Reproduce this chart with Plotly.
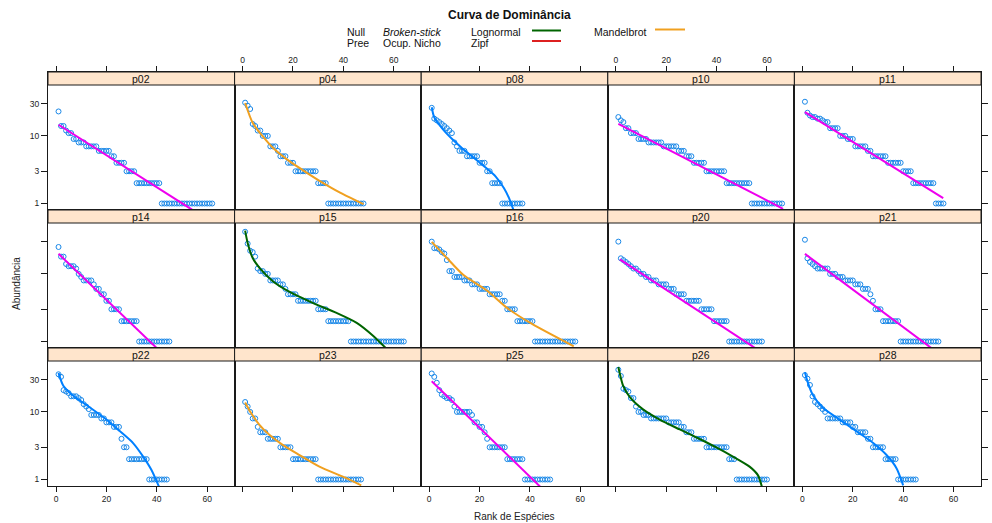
import plotly.graph_objects as go

W, H = 992, 523

panel_names = ["p02", "p04", "p08", "p10", "p11",
               "p14", "p15", "p16", "p20", "p21",
               "p22", "p23", "p25", "p26", "p28"]

x_ticks = [0, 20, 40, 60]
y_ticks = [1, 3, 10, 30]
y_ticktext = ["1", "3", "10", "30"]

# ---- abundances (sorted, rank = position) ----
p02_ab = [23, 14, 14, 12, 11, 11, 9, 9, 8, 8, 8, 7, 7, 7, 7, 7, 6, 6, 6, 6, 6, 5, 5, 4, 4, 4, 4, 3, 3, 3, 3,
          2, 2, 2, 2, 2, 2, 2, 2, 2, 2,
          1, 1, 1, 1, 1, 1, 1, 1, 1, 1, 1, 1, 1, 1, 1, 1, 1, 1, 1, 1, 1]
p04_ab = [31, 28, 25, 15, 14, 12, 12, 10, 10, 10, 7, 7, 7, 6, 5, 5, 5, 4, 4, 4,
          3, 3, 3, 3, 3, 3, 3, 3, 3, 2, 2, 2, 2,
          1, 1, 1, 1, 1, 1, 1, 1, 1, 1, 1, 1, 1, 1, 1]
p08_ab = [26, 18, 17, 16, 15, 14, 13, 12, 11, 8, 7, 6, 6, 6, 5, 5, 5, 5, 5, 4, 4, 4, 3, 3,
          2, 2, 2, 2, 1, 1, 1, 1, 1, 1, 1, 1, 1]
p10_ab = [19, 17, 16, 13, 13, 11, 11, 11, 9, 9, 9, 9, 8, 8, 8, 8, 8, 8, 7, 7, 7, 7, 7, 7, 6, 6, 6, 5, 5, 5,
          4, 4, 4, 4, 4, 3, 3, 3, 3, 3, 3, 3, 3,
          2, 2, 2, 2, 2, 2, 2, 2, 2, 2,
          1, 1, 1, 1, 1, 1, 1, 1, 1, 1, 1, 1, 1]
p11_ab = [32, 22, 20, 19, 19, 18, 18, 17, 16, 16, 13, 13, 13, 13, 10, 10, 10, 9, 9, 9, 7, 7, 7, 7, 7, 6, 6,
          5, 5, 5, 5, 5, 5, 4, 4, 4, 4, 4, 4, 3, 3, 3, 3,
          2, 2, 2, 2, 2, 2, 2, 2, 2, 1, 1, 1, 1]
p14_ab = [25, 18, 18, 14, 13, 13, 13, 12, 10, 9, 8, 8, 8, 8, 7, 6, 6, 5, 5, 4, 4,
          3, 3, 3, 3, 2, 2, 2, 2, 2, 2, 2,
          1, 1, 1, 1, 1, 1, 1, 1, 1, 1, 1, 1, 1]
p15_ab = [42, 28, 22, 21, 18, 12, 11, 11, 10, 10, 8, 8, 8, 8, 7, 7, 6, 5, 5, 5, 5,
          4, 4, 4, 4, 4, 4, 4, 4, 3, 3, 3, 3,
          2, 2, 2, 2, 2, 2, 2, 2, 2,
          1, 1, 1, 1, 1, 1, 1, 1, 1, 1, 1, 1, 1, 1, 1, 1, 1, 1, 1, 1, 1, 1]
p16_ab = [30, 24, 24, 23, 21, 20, 16, 11, 11, 9, 9, 9, 9, 8, 8, 8, 7, 7, 7, 6, 6, 6, 6,
          5, 5, 5, 5, 5, 4, 4, 3, 3, 3, 3, 2, 2, 2, 2, 2, 2, 2,
          1, 1, 1, 1, 1, 1, 1, 1, 1, 1, 1, 1, 1, 1, 1, 1, 1]
p20_ab = [30, 17, 16, 15, 14, 13, 12, 12, 11, 10, 10, 9, 9, 8, 8, 8, 7, 7, 7, 7, 6, 6, 6, 5, 5, 5, 5,
          4, 4, 4, 4, 4, 4, 3, 3, 3, 3, 3, 2, 2, 2, 2, 2, 2,
          1, 1, 1, 1, 1, 1, 1, 1, 1, 1, 1, 1, 1, 1]
p21_ab = [32, 17, 15, 14, 13, 12, 12, 12, 12, 12, 10, 10, 10, 9, 9, 9, 8, 8, 8, 8, 7, 7, 7, 6, 6, 6, 5, 4,
          3, 3, 3, 2, 2, 2, 2, 2, 2, 2,
          1, 1, 1, 1, 1, 1, 1, 1, 1, 1, 1, 1, 1, 1, 1, 1]
p22_ab = [36, 33, 21, 20, 19, 17, 17, 17, 16, 15, 13, 12, 11, 9, 9, 9, 9, 8, 8, 7, 7, 7, 6, 6, 6, 4, 3, 3,
          2, 2, 2, 2, 2, 2, 2, 2, 1, 1, 1, 1, 1, 1, 1, 1]
p23_ab = [14, 12, 10, 8, 8, 6, 5, 5, 5, 4, 4, 4, 4, 4, 3, 3, 3, 3, 3,
          2, 2, 2, 2, 2, 2, 2, 2, 2, 2,
          1, 1, 1, 1, 1, 1, 1, 1, 1, 1, 1, 1, 1, 1, 1, 1, 1, 1]
p25_ab = [37, 33, 27, 21, 18, 17, 16, 16, 15, 12, 10, 10, 10, 10, 10, 10, 9, 7, 7, 6, 6, 5, 4,
          3, 3, 3, 3, 3, 3, 3, 2, 2, 2, 2, 2, 2, 2,
          1, 1, 1, 1, 1, 1, 1, 1, 1, 1, 1]
p26_ab = [42, 34, 22, 21, 20, 16, 16, 12, 10, 10, 9, 9, 9, 8, 8, 8, 8, 8, 8, 8, 7, 7, 7, 7, 7, 6, 6,
          5, 5, 5, 4, 4, 4, 4, 4, 3, 3, 3, 3, 3, 3, 3, 3, 3, 2, 2, 2,
          1, 1, 1, 1, 1, 1, 1, 1, 1, 1, 1, 1, 1]
p28_ab = [35, 31, 25, 17, 14, 13, 12, 11, 10, 8, 8, 8, 8, 8, 8, 7, 7, 7, 7, 6, 6, 5, 5, 5, 5, 4, 4,
          3, 3, 3, 3, 3, 2, 2, 2, 2, 2, 1, 1, 1, 1, 1, 1, 1, 1]

# ---- fitted model curves (rank, abundance) ----
p02_fx, p02_fy = [1, 54], [14.6, 0.81]
p04_fx, p04_fy = [1, 4, 8, 12, 18.7, 24, 30.7, 38.7, 48], [30.7, 15.6, 9.8, 6.7, 4.2, 3.1, 2.15, 1.45, 0.98]
p08_fx, p08_fy = [1, 2, 5.3, 9.2, 13.2, 17.2, 22.4, 26.4, 29.7, 31.7, 33.4], [26.5, 18.8, 12.7, 8.9, 6.5, 4.9, 3.4, 2.5, 1.68, 1.2, 0.81]
p10_fx, p10_fy = [1, 66.4], [15.1, 0.835]
p11_fx, p11_fy = [1, 55.9], [22.4, 1.2]
p14_fx, p14_fy = [1, 40.6], [19.8, 0.76]
p15_fx, p15_fy = [1, 2, 4, 6.7, 12, 18.7, 28, 37.3, 45.3, 52, 56.7], [43.6, 28.7, 17.2, 12.3, 7.8, 5.4, 3.7, 2.65, 1.89, 1.2, 0.81]
p16_fx, p16_fy = [1, 7.2, 13.6, 22.9, 30.9, 40.8, 57.4], [29.7, 16.9, 9.6, 5.67, 3.14, 1.82, 0.85]
p20_fx, p20_fy = [1.6, 56], [16.4, 0.77]
p21_fx, p21_fy = [1, 52], [19.8, 0.76]
p22_fx, p22_fy = [1, 2.9, 6.9, 13.5, 20, 25.3, 30.6, 34.6, 37.9, 40.9], [37.8, 24.4, 17.3, 11.6, 7.7, 5.2, 3.46, 2.18, 1.38, 0.78]
p23_fx, p23_fy = [1, 3.3, 6.6, 10.6, 15.9, 22.6, 30.5, 39.8, 47.1], [13.8, 9.7, 6.5, 4.6, 3.26, 2.3, 1.55, 1.1, 0.82]
p25_fx, p25_fy = [1, 44.1], [28.4, 0.78]
p26_fx, p26_fy = [1, 1.6, 2.9, 5.5, 10.8, 17.4, 25.4, 33.3, 39.9, 46.5, 53.1, 56.4, 58], [46, 36.6, 24.4, 16.7, 10.9, 7.7, 5.5, 3.97, 2.98, 2.18, 1.55, 1.16, 0.78]
p28_fx, p28_fy = [1, 2.1, 4.1, 8.1, 14.8, 21.4, 28.1, 33.4, 37.4, 40], [38.6, 27.6, 17.9, 11.5, 7.7, 5.2, 3.46, 2.3, 1.46, 0.82]

panel_models = ["Preemption", "Mandelbrot", "Null", "Preemption", "Preemption",
                "Preemption", "Lognormal", "Mandelbrot", "Preemption", "Preemption",
                "Null", "Mandelbrot", "Preemption", "Lognormal", "Null"]

abund = [p02_ab, p04_ab, p08_ab, p10_ab, p11_ab, p14_ab, p15_ab, p16_ab, p20_ab, p21_ab,
         p22_ab, p23_ab, p25_ab, p26_ab, p28_ab]
fits = [(p02_fx, p02_fy), (p04_fx, p04_fy), (p08_fx, p08_fy), (p10_fx, p10_fy), (p11_fx, p11_fy),
        (p14_fx, p14_fy), (p15_fx, p15_fy), (p16_fx, p16_fy), (p20_fx, p20_fy), (p21_fx, p21_fy),
        (p22_fx, p22_fy), (p23_fx, p23_fy), (p25_fx, p25_fy), (p26_fx, p26_fy), (p28_fx, p28_fy)]

model_color = {"Null": "#0080ff", "Preemption": "#ee00ee", "Lognormal": "#006400",
               "Zipf": "#dd2020", "Mandelbrot": "#f0a020"}

FONT = "Liberation Sans, Arial, sans-serif"
LEFT, COLW, TOP, ROWH, STRIP = 48, 186.6, 72, 138, 13


def fx(p):
    return p / W


def fy(p):
    return 1 - p / H


fig = go.Figure()
layout = {}
shapes = []
annotations = []

for i, name in enumerate(panel_names):
    r, c = divmod(i, 5)
    sfx = "" if i == 0 else str(i + 1)
    ab = abund[i]
    ranks = list(range(1, len(ab) + 1))
    fig.add_trace(go.Scatter(
        x=ranks, y=ab, mode="markers", xaxis="x" + sfx, yaxis="y" + sfx,
        marker=dict(symbol="circle-open", size=5, color="#1a88e8", line=dict(width=1, color="#1a88e8")),
        showlegend=False, hoverinfo="skip"))
    fxs, fys = fits[i]
    fig.add_trace(go.Scatter(
        x=fxs, y=fys, mode="lines", xaxis="x" + sfx, yaxis="y" + sfx,
        line=dict(color=model_color[panel_models[i]], width=2, shape="spline", smoothing=0.7),
        showlegend=False, hoverinfo="skip"))

    x0p = LEFT + c * COLW
    x1p = x0p + COLW
    y0p = TOP + r * ROWH
    y1p = y0p + ROWH
    xa = dict(domain=[fx(x0p), fx(x1p)], range=[-3.18, 70.9], anchor="y" + sfx, automargin=False,
              showgrid=False, zeroline=False, showline=True, mirror=True,
              linecolor="#1a1a1a", linewidth=1, tickvals=x_ticks,
              tickfont=dict(family=FONT, size=8.5, color="#222"), ticklen=5,
              tickcolor="#1a1a1a", fixedrange=True)
    if r == 0:
        xa.update(side="top", ticks="outside", showticklabels=(c in (1, 3)))
    elif r == 2:
        xa.update(side="bottom", ticks="outside", showticklabels=(c in (0, 2, 4)))
    else:
        xa.update(ticks="", showticklabels=False)
    ya = dict(domain=[fy(y1p), fy(y0p)], type="log", range=[-0.096, 1.945], anchor="x" + sfx,
              automargin=False,
              showgrid=False, zeroline=False, showline=True, mirror=True,
              linecolor="#1a1a1a", linewidth=1, tickvals=y_ticks, ticktext=y_ticktext,
              tickfont=dict(family=FONT, size=8.5, color="#222"), ticklen=6,
              tickcolor="#1a1a1a", fixedrange=True)
    if c == 0:
        ya.update(side="left", ticks="outside", showticklabels=(r in (0, 2)))
    elif c == 4:
        ya.update(side="right", ticks="outside", showticklabels=(r == 1), ticklabelstandoff=3)
    else:
        ya.update(ticks="", showticklabels=False)
    layout["xaxis" + sfx] = xa
    layout["yaxis" + sfx] = ya

    shapes.append(dict(type="rect", xref="paper", yref="paper", layer="above",
                       x0=fx(x0p), x1=fx(x1p), y0=fy(y0p + STRIP), y1=fy(y0p),
                       fillcolor="#ffe5cc", line=dict(color="#1a1a1a", width=1)))
    annotations.append(dict(xref="paper", yref="paper", x=fx(x0p + COLW / 2), y=fy(y0p + STRIP / 2 + 0.5),
                            text=name, showarrow=False, xanchor="center", yanchor="middle",
                            font=dict(family=FONT, size=10.5, color="#111")))

# title & axis titles
annotations.append(dict(xref="paper", yref="paper", x=fx(509.5), y=fy(15), text="<b>Curva de Dominância</b>",
                        showarrow=False, xanchor="center", yanchor="middle",
                        font=dict(family=FONT, size=12, color="#111")))
annotations.append(dict(xref="paper", yref="paper", x=fx(16), y=fy(284), text="Abundância", textangle=-90,
                        showarrow=False, xanchor="center", yanchor="middle",
                        font=dict(family=FONT, size=10, color="#222")))
annotations.append(dict(xref="paper", yref="paper", x=fx(514), y=fy(516), text="Rank de Espécies",
                        showarrow=False, xanchor="center", yanchor="middle",
                        font=dict(family=FONT, size=10, color="#222")))

# key
legend_texts = [("Null", 345, 32), ("Pree", 345, 43), ("<i>Broken-stick</i>", 381, 32), ("Ocup. Nicho", 381, 43),
                ("Lognormal", 469, 32), ("Zipf", 469, 43), ("Mandelbrot", 592, 32)]
for t, xp, yp in legend_texts:
    annotations.append(dict(xref="paper", yref="paper", x=fx(xp), y=fy(yp), text=t, showarrow=False,
                            xanchor="left", yanchor="middle", font=dict(family=FONT, size=10.5, color="#111")))
legend_lines = [("Lognormal", 532, 561, 30.5), ("Zipf", 532, 561, 41), ("Mandelbrot", 655, 685, 29.5)]
for m, xa0, xa1, yp in legend_lines:
    shapes.append(dict(type="line", xref="paper", yref="paper", x0=fx(xa0), x1=fx(xa1), y0=fy(yp), y1=fy(yp),
                       line=dict(color=model_color[m], width=2)))

# the top of the title is clipped in the original ("Cu")
shapes.append(dict(type="rect", xref="paper", yref="paper", layer="above",
                   x0=fx(446), x1=fx(462), y0=fy(13.5), y1=fy(0),
                   fillcolor="white", line=dict(width=0)))

fig.update_layout(width=W, height=H, margin=dict(l=0, r=0, t=0, b=0), paper_bgcolor="white",
                  plot_bgcolor="white", shapes=shapes, annotations=annotations, **layout)

fig.write_html("out.html")
